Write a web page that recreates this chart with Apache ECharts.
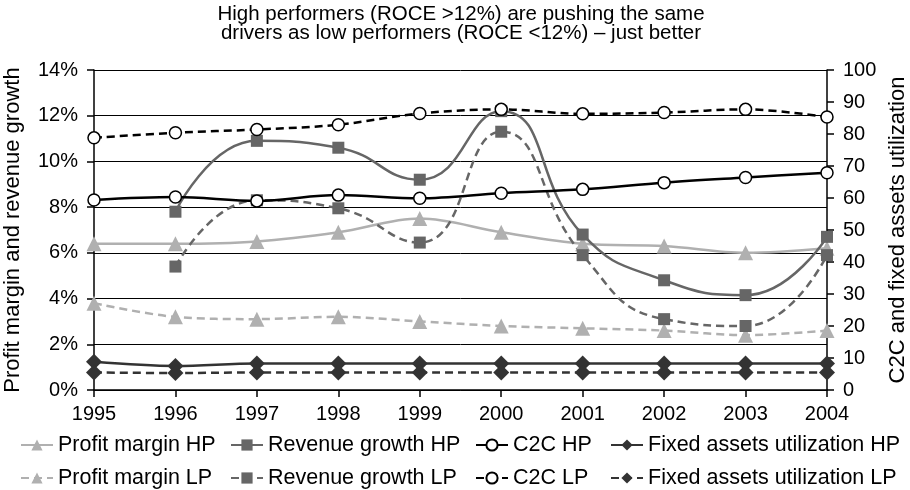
<!DOCTYPE html>
<html>
<head>
<meta charset="utf-8">
<script src="https://cdn.jsdelivr.net/npm/echarts@6/dist/echarts.min.js"></script>
<style>
  html, body { margin: 0; padding: 0; background: #fff; }
  #chart { width: 910px; height: 490px; }
</style>
</head>
<body>
<div id="chart"></div>
<script>
// Categories
const years = ['1995', '1996', '1997', '1998', '1999', '2000', '2001', '2002', '2003', '2004'];

// Left axis (%): profit margin and revenue growth
const profitMarginHP = [6.4, 6.4, 6.5, 6.9, 7.5, 6.9, 6.4, 6.3, 6.0, 6.2];
const profitMarginLP = [3.8, 3.2, 3.1, 3.2, 3.0, 2.8, 2.7, 2.6, 2.4, 2.6];
const revenueGrowthHP = [null, 7.8, 10.9, 10.6, 9.2, 12.2, 6.8, 4.8, 4.15, 6.7];
const revenueGrowthLP = [null, 5.4, 8.3, 7.95, 6.45, 11.3, 5.9, 3.1, 2.8, 5.9];

// Right axis: C2C and fixed assets utilization
const c2cHP = [59.4, 60.3, 59.1, 60.9, 59.9, 61.5, 62.7, 64.8, 66.4, 67.9];
const c2cLP = [78.8, 80.4, 81.4, 82.9, 86.4, 87.7, 86.3, 86.7, 87.7, 85.3];
const fixedAssetsHP = [8.8, 7.5, 8.3, 8.3, 8.3, 8.3, 8.3, 8.3, 8.3, 8.3];
const fixedAssetsLP = [5.5, 5.3, 5.5, 5.5, 5.5, 5.5, 5.5, 5.5, 5.5, 5.5];

// Tick settings
const leftTicks = { min: 0, max: 14, interval: 2 };
const rightTicks = { min: 0, max: 100, interval: 10 };

const FONT = '"Liberation Sans", Arial, Helvetica, sans-serif';
const DASH = [8, 5];

const chart = echarts.init(document.getElementById('chart'));

function lineSeries(name, data, axis, opts) {
  return Object.assign({
    name: name,
    type: 'line',
    yAxisIndex: axis,
    data: data,
    smooth: 0.35,
    animation: false
  }, opts);
}

const series = [
  lineSeries('Profit margin HP', profitMarginHP, 0, {
    symbol: 'triangle', symbolSize: 15,
    lineStyle: { color: '#b0b0b0', width: 2.5 },
    itemStyle: { color: '#b0b0b0' }
  }),
  lineSeries('Profit margin LP', profitMarginLP, 0, {
    symbol: 'triangle', symbolSize: 15,
    lineStyle: { color: '#b0b0b0', width: 2.5, type: DASH },
    itemStyle: { color: '#b0b0b0' }
  }),
  lineSeries('Revenue growth HP', revenueGrowthHP, 0, {
    symbol: 'rect', symbolSize: 12, smooth: 0.5,
    lineStyle: { color: '#666666', width: 2.5 },
    itemStyle: { color: '#666666' }
  }),
  lineSeries('Revenue growth LP', revenueGrowthLP, 0, {
    symbol: 'rect', symbolSize: 12, smooth: 0.5,
    lineStyle: { color: '#666666', width: 2.5, type: DASH },
    itemStyle: { color: '#666666' }
  }),
  lineSeries('C2C HP', c2cHP, 1, {
    symbol: 'circle', symbolSize: 12,
    lineStyle: { color: '#000000', width: 2.5 },
    itemStyle: { color: '#ffffff', borderColor: '#000000', borderWidth: 1.5 }
  }),
  lineSeries('C2C LP', c2cLP, 1, {
    symbol: 'circle', symbolSize: 12,
    lineStyle: { color: '#000000', width: 2.5, type: DASH },
    itemStyle: { color: '#ffffff', borderColor: '#000000', borderWidth: 1.5 }
  }),
  lineSeries('Fixed assets utilization HP', fixedAssetsHP, 1, {
    symbol: 'diamond', symbolSize: 16,
    lineStyle: { color: '#333333', width: 2.5 },
    itemStyle: { color: '#333333' }
  }),
  lineSeries('Fixed assets utilization LP', fixedAssetsLP, 1, {
    symbol: 'diamond', symbolSize: 16,
    lineStyle: { color: '#333333', width: 2.5, type: DASH },
    itemStyle: { color: '#333333' }
  })
];

// One vertical legend per column: HP on the first row, LP on the second
const legendColumns = [
  { left: 20, data: ['Profit margin HP', 'Profit margin LP'] },
  { left: 230, data: ['Revenue growth HP', 'Revenue growth LP'] },
  { left: 475, data: ['C2C HP', 'C2C LP'] },
  { left: 610, data: ['Fixed assets utilization HP', 'Fixed assets utilization LP'] }
];

const legends = legendColumns.map(col => ({
  orient: 'vertical',
  left: col.left,
  top: 434,
  itemWidth: 32,
  itemHeight: 14,
  itemGap: 11,
  padding: 0,
  selectedMode: false,
  textStyle: { fontFamily: FONT, fontSize: 21.5, color: '#000', lineHeight: 22 },
  data: col.data
}));

const axisText = { fontFamily: FONT, fontSize: 20, color: '#000' };
const axisNameText = { fontFamily: FONT, fontSize: 22, color: '#000' };

chart.setOption({
  animation: false,
  backgroundColor: '#ffffff',
  textStyle: { fontFamily: FONT },
  title: {
    text: 'High performers (ROCE >12%) are pushing the same\ndrivers as low performers (ROCE <12%) – just better',
    left: 461,
    textAlign: 'center',
    top: 5,
    padding: 0,
    textStyle: { fontFamily: FONT, fontSize: 20.5, fontWeight: 'normal', color: '#000', lineHeight: 19 }
  },
  legend: legends,
  grid: { left: 94, right: 83, top: 70, bottom: 100, containLabel: false, outerBoundsMode: 'none' },
  xAxis: {
    type: 'category',
    data: years,
    boundaryGap: false,
    axisLine: { lineStyle: { color: '#000', width: 1.5 } },
    axisTick: { show: true, length: 7, inside: false, alignWithLabel: true, lineStyle: { color: '#000', width: 1.5 } },
    axisLabel: Object.assign({ margin: 14 }, axisText),
    splitLine: { show: false }
  },
  yAxis: [
    {
      type: 'value',
      position: 'left',
      min: leftTicks.min, max: leftTicks.max, interval: leftTicks.interval,
      name: 'Profit margin and revenue growth',
      nameLocation: 'middle',
      nameRotate: 90,
      nameGap: 70,
      nameTextStyle: axisNameText,
      axisLine: { show: true, lineStyle: { color: '#000', width: 1.5 } },
      axisTick: { show: true, length: 7, lineStyle: { color: '#000', width: 1.5 } },
      axisLabel: Object.assign({ margin: 16, formatter: '{value}%' }, axisText),
      splitLine: { show: true, lineStyle: { color: '#000', width: 1 } }
    },
    {
      type: 'value',
      position: 'right',
      min: rightTicks.min, max: rightTicks.max, interval: rightTicks.interval,
      name: 'C2C and fixed assets utilization',
      nameLocation: 'middle',
      nameRotate: 90,
      nameGap: 59,
      nameTextStyle: axisNameText,
      axisLine: { show: true, lineStyle: { color: '#000', width: 1.5 } },
      axisTick: { show: true, length: 7, lineStyle: { color: '#000', width: 1.5 } },
      axisLabel: Object.assign({ margin: 16 }, axisText),
      splitLine: { show: false }
    }
  ],
  series: series
});
</script>
</body>
</html>
